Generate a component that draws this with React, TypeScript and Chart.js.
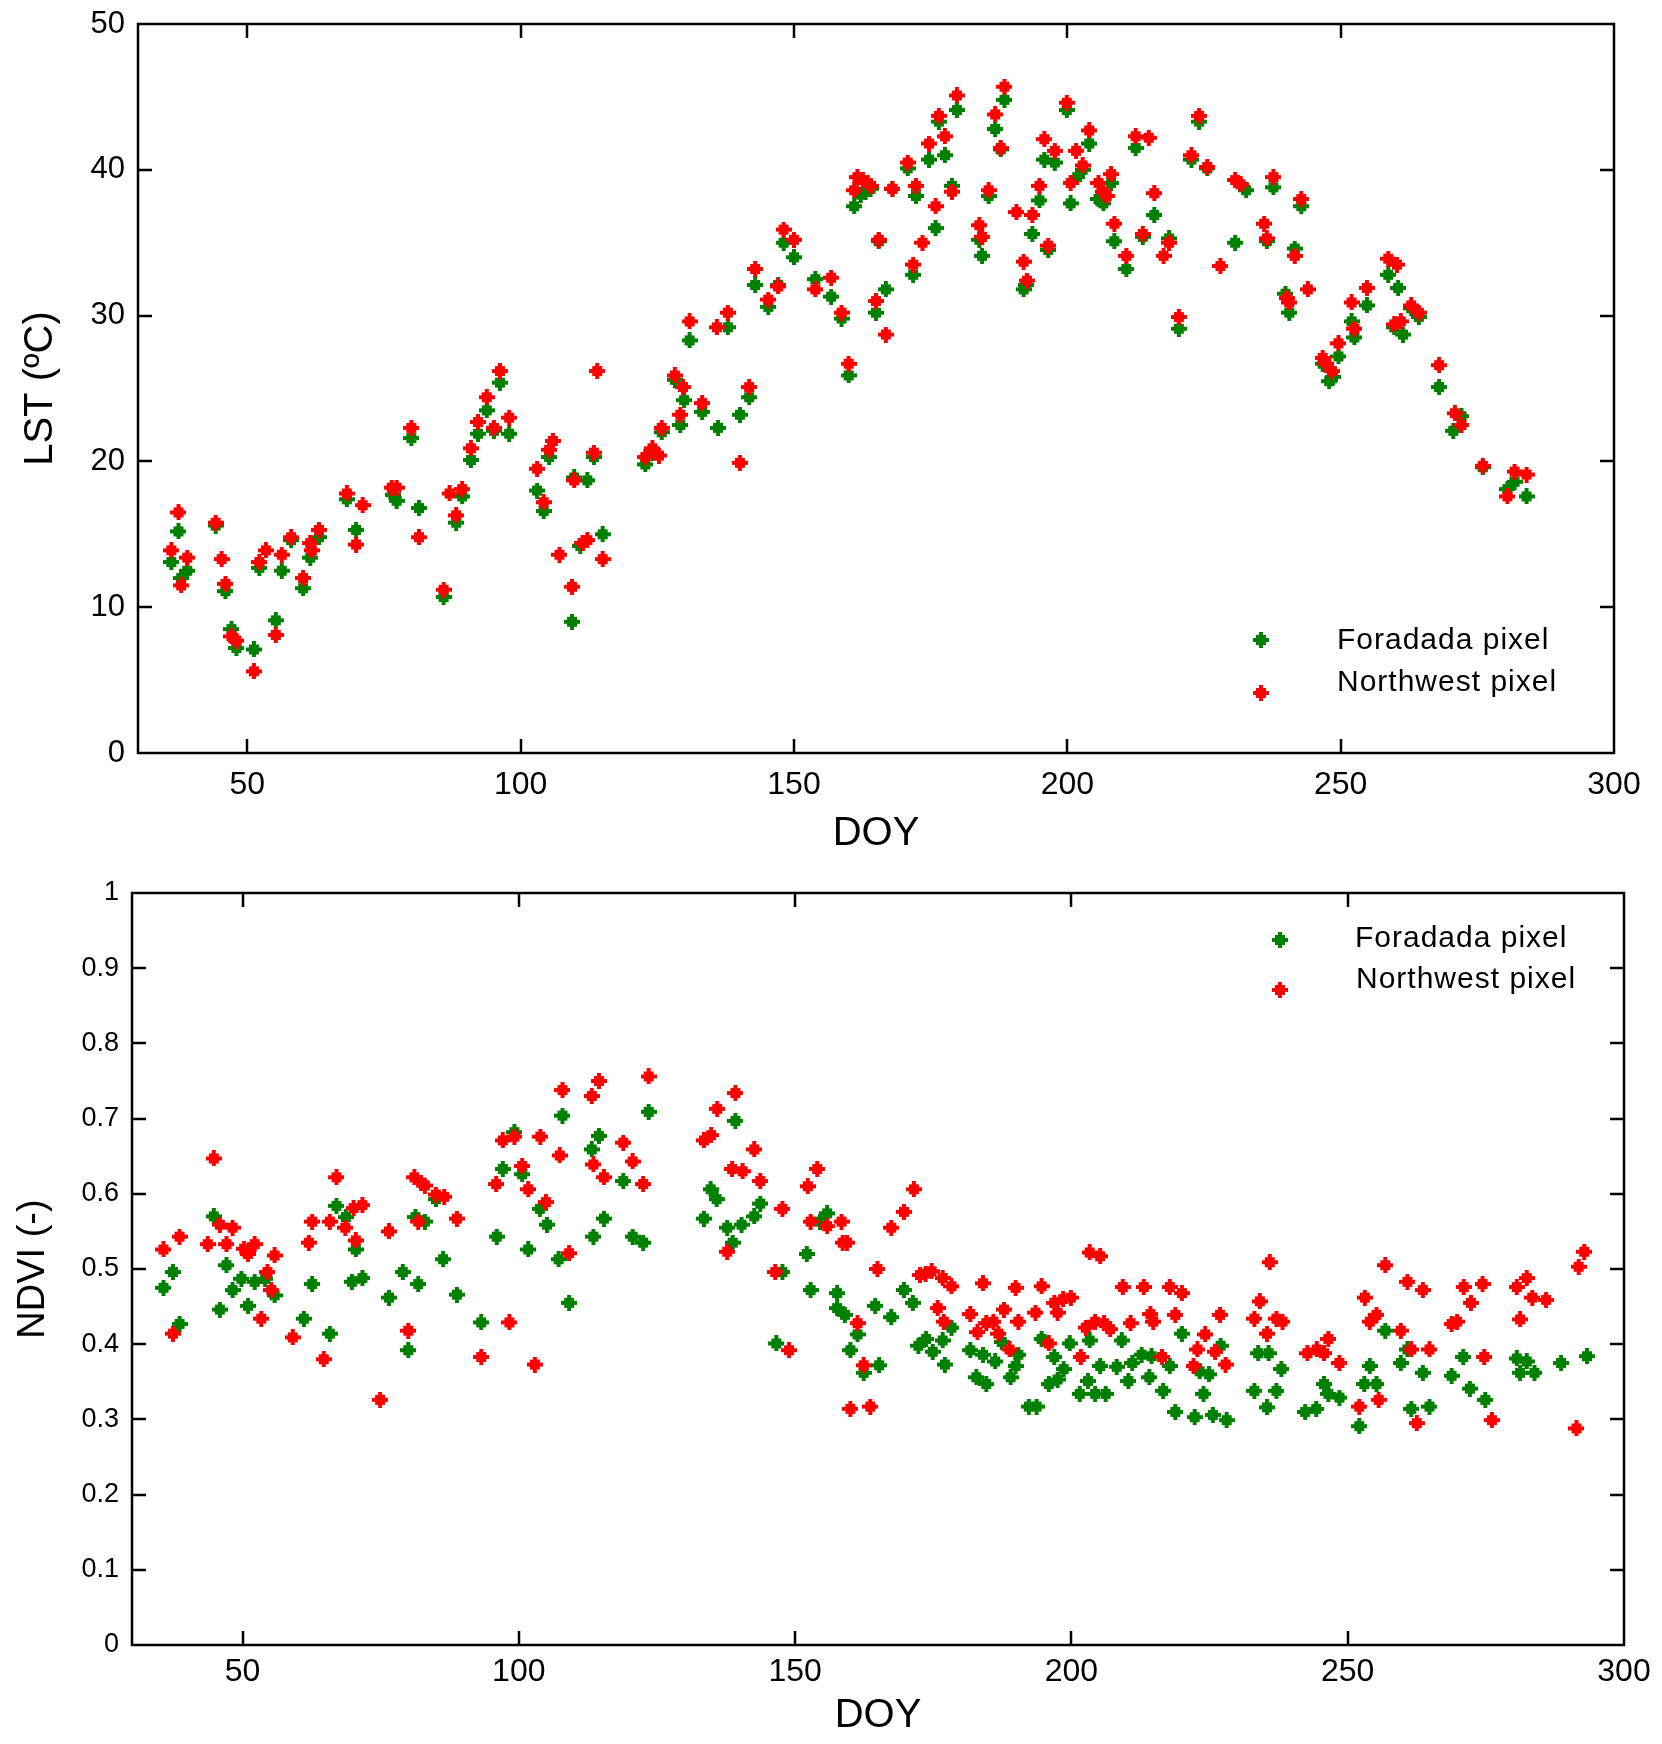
import React, { useEffect, useRef } from 'react';
import { Chart, registerables } from 'chart.js';

Chart.register(...registerables);

type Pt = [number, number];

// axis ticks
const doyTicks = [50, 100, 150, 200, 250, 300];
const lstTicks = [0, 10, 20, 30, 40, 50];
const ndviTicks = [0, 0.1, 0.2, 0.3, 0.4, 0.5, 0.6, 0.7, 0.8, 0.9, 1];
const seriesLabels = ['Foradada pixel', 'Northwest pixel'];

// LST (ºC) by DOY
const lstForadada: Pt[] = [
  [36.1, 13.1], [37.4, 15.2], [37.9, 12.0], [39, 12.5], [44.2, 15.6], [46, 11.1], [47.1, 8.5], [48, 7.2],
  [51.2, 7.1], [52.2, 12.7], [55.2, 9.1], [56.3, 12.5], [58, 14.6], [60.2, 11.3], [61.5, 13.4], [63.1, 14.8],
  [68.2, 17.4], [69.9, 15.3], [76.7, 17.7], [77.3, 17.3], [80, 21.6], [81.4, 16.8], [85.9, 10.7], [88.2, 15.8],
  [89.3, 17.6], [90.9, 20.1], [92.2, 21.9], [93.8, 23.5], [95.1, 22.1], [96.2, 25.4], [97.9, 21.9], [103, 18.0],
  [104.2, 16.6], [105.2, 20.3], [109.4, 9.0], [109.8, 18.9], [110.9, 14.2], [112.2, 18.7], [113.4, 20.3], [115, 15.0],
  [122.8, 19.8], [124.1, 20.6], [125.8, 22.0], [128.2, 25.6], [129.9, 24.2], [129.2, 22.5], [130.9, 28.3], [133.2, 23.4],
  [136.1, 22.3], [137.9, 29.2], [140.1, 23.2], [141.8, 24.4], [142.9, 32.1], [145.3, 30.6], [147.1, 32.1], [148.1, 35.0],
  [150, 34.0], [153.9, 32.5], [156.8, 31.3], [158.7, 29.8], [160, 25.9], [161, 37.5], [162.2, 38.3], [163.1, 38.5],
  [164, 38.7], [165.5, 35.1], [166.8, 31.8], [165, 30.2], [168, 38.7], [170.8, 40.1], [171.8, 32.8], [172.3, 38.2],
  [174.7, 40.7], [175.9, 36.0], [176.5, 43.3], [177.6, 41.0], [178.9, 38.9], [179.8, 44.1], [183.9, 35.2], [184.4, 34.1],
  [185.6, 38.2], [186.8, 42.8], [187.8, 41.4], [188.5, 44.8], [192, 31.8], [192.4, 32.1], [193.6, 35.6], [194.9, 37.9],
  [195.8, 40.7], [196.5, 34.5], [197.7, 40.5], [199.9, 44.1], [200.6, 37.7], [201.8, 39.5], [202.8, 40.0], [204, 41.8],
  [205.7, 38.0], [206.6, 37.7], [208, 39.1], [208.6, 35.1], [210.8, 33.2], [212.5, 41.5], [213.8, 35.4], [215.9, 36.9],
  [218.6, 35.3], [220.4, 29.1], [222.7, 40.7], [224.1, 43.3], [225.6, 40.1], [230.7, 35.0], [232.7, 38.6], [236.5, 35.1],
  [237.7, 38.8], [239.9, 31.5], [240.6, 30.2], [241.6, 34.6], [242.8, 37.5], [246.7, 26.7], [247.9, 25.5], [248.6, 25.8],
  [249.6, 27.2], [252, 29.6], [252.5, 28.5], [254.8, 30.7], [258.7, 32.8], [260.5, 31.9], [259.8, 29.2], [261.4, 28.7],
  [262.9, 30.5], [264.3, 29.9], [268, 25.1], [270.6, 22.1], [272.1, 23.1], [276, 19.6], [280.5, 18.1], [281.8, 18.6],
  [284, 17.6],
];

const lstNorthwest: Pt[] = [
  [36.1, 13.9], [37.4, 16.5], [37.9, 11.5], [39, 13.4], [44.2, 15.8], [45.3, 13.3], [46, 11.6], [47.1, 8.0],
  [48, 7.7], [51.2, 5.6], [52.2, 13.1], [53.4, 13.9], [55.2, 8.1], [56.3, 13.6], [58, 14.8], [60.2, 12.0],
  [61.5, 14.4], [61.8, 13.9], [63.1, 15.3], [68.2, 17.8], [69.9, 14.3], [71.1, 17.0], [76.4, 18.2], [77.3, 18.2],
  [80, 22.3], [81.4, 14.8], [85.9, 11.2], [87, 17.8], [88.2, 16.3], [89.3, 18.1], [90.9, 20.9], [92.2, 22.7],
  [93.8, 24.4], [95.1, 22.3], [96.2, 26.2], [97.9, 23.0], [103, 19.5], [104.2, 17.2], [105.2, 20.8], [105.9, 21.4],
  [107.1, 13.6], [109.4, 11.4], [109.8, 18.7], [111.3, 14.4], [112.2, 14.6], [113.4, 20.6], [114, 26.2], [115, 13.3],
  [122.8, 20.3], [124.1, 20.9], [125.3, 20.4], [125.8, 22.3], [128.2, 25.9], [129.7, 25.1], [129.2, 23.2], [130.9, 29.6],
  [133.2, 24.0], [135.9, 29.2], [137.9, 30.2], [140.1, 19.9], [141.8, 25.1], [142.9, 33.2], [145.3, 31.1], [147.1, 32.0],
  [148.1, 35.9], [150, 35.2], [153.9, 31.8], [156.8, 32.6], [158.7, 30.2], [160, 26.7], [161, 38.6], [161.6, 39.5],
  [162.6, 39.3], [163.5, 39.1], [164, 38.9], [165.5, 35.2], [166.8, 28.7], [165, 31.0], [168, 38.7], [170.8, 40.5],
  [171.8, 33.5], [172.3, 38.9], [173.5, 35.0], [174.7, 41.8], [175.9, 37.5], [176.5, 43.7], [177.6, 42.3], [178.9, 38.5],
  [179.8, 45.1], [183.9, 36.2], [184.4, 35.4], [185.6, 38.6], [186.8, 43.8], [187.8, 41.5], [188.5, 45.7], [190.7, 37.1],
  [192, 33.7], [192.6, 32.4], [193.6, 36.9], [194.9, 38.9], [195.8, 42.1], [196.5, 34.8], [197.7, 41.3], [199.9, 44.6],
  [200.6, 39.1], [201.6, 41.3], [202.8, 40.3], [204, 42.7], [205.7, 39.1], [206.6, 38.5], [207.2, 38.2], [208, 39.7],
  [208.6, 36.3], [210.8, 34.1], [212.5, 42.3], [214.9, 42.2], [213.8, 35.6], [215.9, 38.4], [217.6, 34.1], [218.6, 35.0],
  [220.4, 29.9], [222.7, 41.0], [224.1, 43.7], [225.6, 40.2], [228, 33.4], [230.7, 39.3], [231.7, 39.0], [236, 36.3],
  [236.5, 35.3], [237.7, 39.5], [240.1, 31.2], [240.6, 30.9], [241.6, 34.1], [242.8, 38.0], [244, 31.8], [246.7, 27.1],
  [247.4, 26.7], [248.4, 26.2], [249.6, 28.1], [252, 30.9], [252.5, 29.1], [254.8, 31.9], [258.7, 33.9], [260.3, 33.5],
  [259.8, 29.4], [261, 29.6], [262.9, 30.7], [264.3, 30.2], [268, 26.6], [270.9, 23.3], [272.1, 22.5], [276, 19.7],
  [280.5, 17.6], [281.8, 19.3], [284, 19.1],
];

// NDVI (-) by DOY
const ndviForadada: Pt[] = [
  [35.7, 0.475], [37.4, 0.496], [38.6, 0.427], [44.8, 0.570], [45.9, 0.446], [47.1, 0.505], [48.2, 0.472], [49.8, 0.487],
  [51, 0.451], [52.2, 0.483], [54.1, 0.487], [55.8, 0.465], [61.1, 0.434], [62.6, 0.480], [65.8, 0.414], [67, 0.584],
  [68.7, 0.569], [70.5, 0.526], [69.8, 0.483], [71.7, 0.488], [76.5, 0.462], [79, 0.496], [80, 0.392], [81.3, 0.569],
  [83, 0.563], [81.8, 0.480], [85, 0.593], [86.3, 0.513], [88.8, 0.466], [93.2, 0.429], [96, 0.543], [97.1, 0.633],
  [99.2, 0.682], [100.6, 0.626], [101.7, 0.526], [103.8, 0.580], [105.1, 0.559], [107.2, 0.513], [107.9, 0.704], [109.1, 0.455],
  [113.2, 0.659], [114.5, 0.677], [115.4, 0.567], [113.5, 0.543], [118.9, 0.617], [120.6, 0.543], [122.5, 0.535], [123.5, 0.709],
  [134.7, 0.606], [135.8, 0.593], [133.5, 0.567], [139.2, 0.697], [137.7, 0.555], [138.7, 0.535], [140.3, 0.559], [142.6, 0.570],
  [143.7, 0.587], [147.7, 0.496], [146.6, 0.401], [152.1, 0.520], [154.5, 0.563], [155.8, 0.574], [152.8, 0.472], [157.6, 0.468],
  [157.6, 0.448], [159, 0.439], [161.3, 0.413], [160, 0.392], [162.4, 0.362], [165.2, 0.372], [164.5, 0.451], [167.4, 0.436],
  [169.7, 0.472], [171.3, 0.455], [172.3, 0.398], [173.7, 0.407], [174.9, 0.390], [176.7, 0.405], [178.3, 0.422], [177.1, 0.373],
  [181.7, 0.392], [182.8, 0.356], [184.6, 0.347], [184, 0.386], [186.2, 0.377], [187.4, 0.403], [189, 0.356], [189.9, 0.371],
  [190.4, 0.386], [192.3, 0.317], [193.7, 0.317], [194.6, 0.407], [195.9, 0.347], [197.5, 0.353], [198.6, 0.367], [196.9, 0.383],
  [199.7, 0.401], [201.5, 0.334], [204.3, 0.334], [206.2, 0.334], [203, 0.351], [203.3, 0.405], [205.2, 0.371], [208.2, 0.370],
  [209.1, 0.405], [210.3, 0.351], [211, 0.375], [212.7, 0.386], [214.1, 0.356], [214.5, 0.384], [216.6, 0.338], [217.8, 0.371],
  [218.8, 0.310], [220, 0.414], [222.3, 0.303], [223.2, 0.364], [223.9, 0.334], [224.9, 0.360], [225.6, 0.306], [227, 0.398],
  [228.1, 0.299], [233.1, 0.338], [233.8, 0.388], [235.4, 0.316], [235.7, 0.388], [237.1, 0.338], [238, 0.367], [242.3, 0.310],
  [244.3, 0.314], [245.7, 0.347], [246.5, 0.334], [248.5, 0.329], [252.1, 0.291], [253, 0.347], [254, 0.371], [255.2, 0.347],
  [256.8, 0.418], [259.6, 0.375], [260.8, 0.393], [261.5, 0.314], [263.6, 0.362], [264.8, 0.317], [268.8, 0.358], [270.9, 0.383],
  [272.1, 0.341], [274.9, 0.326], [280.6, 0.381], [281.2, 0.362], [282.4, 0.377], [283.8, 0.362], [288.6, 0.375], [293.3, 0.384],
];

const ndviNorthwest: Pt[] = [
  [35.7, 0.526], [37.4, 0.414], [38.6, 0.543], [43.7, 0.533], [44.8, 0.647], [45.9, 0.559], [47.1, 0.533], [48.2, 0.555],
  [50.3, 0.527], [51, 0.520], [52.2, 0.533], [53.4, 0.434], [54.5, 0.496], [55.2, 0.472], [55.8, 0.518], [59.1, 0.409],
  [62, 0.535], [62.6, 0.563], [64.7, 0.380], [65.8, 0.563], [67, 0.622], [68.6, 0.555], [70.1, 0.581], [71.7, 0.585],
  [70.5, 0.538], [74.9, 0.326], [76.5, 0.550], [80, 0.418], [81.1, 0.622], [82.3, 0.615], [83, 0.611], [81.8, 0.563],
  [85, 0.599], [86.5, 0.596], [88.8, 0.567], [93.2, 0.383], [95.9, 0.613], [97.1, 0.671], [99.2, 0.676], [100.6, 0.637],
  [98.3, 0.429], [101.7, 0.606], [102.9, 0.373], [103.9, 0.676], [104.9, 0.589], [107.4, 0.651], [107.9, 0.738], [109.1, 0.521],
  [113.2, 0.730], [114.5, 0.750], [113.5, 0.639], [115.4, 0.622], [118.9, 0.668], [120.6, 0.643], [122.5, 0.613], [123.5, 0.756],
  [133.5, 0.671], [134.8, 0.678], [135.9, 0.713], [139.2, 0.734], [138.6, 0.633], [140.5, 0.630], [137.7, 0.523], [142.6, 0.659],
  [143.7, 0.617], [147.7, 0.580], [146.4, 0.496], [148.9, 0.392], [152.3, 0.610], [154, 0.633], [152.8, 0.563], [155.8, 0.557],
  [158.4, 0.563], [158.6, 0.535], [159.4, 0.535], [161.3, 0.428], [160, 0.314], [163.6, 0.317], [162.4, 0.372], [164.9, 0.500],
  [167.4, 0.555], [169.7, 0.576], [171.5, 0.606], [172.6, 0.492], [173.6, 0.494], [174.7, 0.497], [176.7, 0.488], [178.3, 0.477],
  [175.8, 0.448], [176.9, 0.430], [181.7, 0.440], [183, 0.416], [184, 0.481], [184.6, 0.428], [185.9, 0.430], [186.8, 0.414],
  [187.8, 0.446], [188.8, 0.393], [189.9, 0.475], [190.4, 0.430], [193.5, 0.442], [194.6, 0.477], [195.9, 0.401], [196.9, 0.455],
  [197.5, 0.442], [198.5, 0.460], [199.9, 0.462], [201.7, 0.383], [203.3, 0.522], [205.2, 0.517], [202.6, 0.422], [204.3, 0.430],
  [205.9, 0.428], [207, 0.420], [209.3, 0.476], [213.1, 0.476], [217.8, 0.476], [220, 0.468], [210.7, 0.428], [214.3, 0.440],
  [214.8, 0.430], [218.8, 0.439], [216.4, 0.383], [222.1, 0.371], [222.8, 0.393], [224.2, 0.413], [226, 0.390], [226.9, 0.439],
  [227.9, 0.373], [233.1, 0.434], [234.1, 0.457], [235.4, 0.414], [235.9, 0.509], [237.1, 0.434], [238.2, 0.430], [242.7, 0.388],
  [244.4, 0.393], [245.7, 0.388], [246.5, 0.407], [248.5, 0.375], [252.1, 0.317], [253.1, 0.462], [254, 0.430], [255.2, 0.439],
  [255.6, 0.326], [256.8, 0.505], [259.6, 0.418], [260.8, 0.483], [261.5, 0.393], [263.6, 0.472], [262.5, 0.295], [264.8, 0.393],
  [268.8, 0.427], [269.8, 0.430], [271, 0.476], [272.3, 0.455], [274.4, 0.480], [274.7, 0.383], [276.1, 0.299], [280.6, 0.476],
  [282.4, 0.488], [281.2, 0.433], [283.4, 0.462], [285.9, 0.459], [291.4, 0.288], [291.8, 0.503], [292.8, 0.523],
];

const GREEN = '#008000';
const RED = '#ff0000';
const FONT = "'Liberation Sans', Arial, Helvetica, sans-serif";

// thick "+" marker with a square centre, like the original plot symbols
function makeMarker(color: string): HTMLCanvasElement {
  const c = document.createElement('canvas');
  c.width = 16;
  c.height = 16;
  const g = c.getContext('2d')!;
  g.fillStyle = color;
  g.fillRect(6, 0, 4, 16);
  g.fillRect(0, 6, 16, 4);
  g.fillRect(3, 3, 10, 10);
  return c;
}

// box around the plot with inward tick marks on all four sides
const framePlugin = {
  id: 'frame',
  afterDraw(chart: any, _args: any, opts: any) {
    const { ctx, chartArea: a, scales } = chart;
    ctx.save();
    ctx.strokeStyle = '#000';
    ctx.lineWidth = opts.lineWidth;
    ctx.strokeRect(a.left, a.top, a.right - a.left, a.bottom - a.top);
    ctx.beginPath();
    scales.x.ticks.forEach((t: any) => {
      const px = Math.round(scales.x.getPixelForValue(t.value));
      if (px <= a.left + 2 || px >= a.right - 2) return;
      ctx.moveTo(px, a.bottom);
      ctx.lineTo(px, a.bottom - opts.len);
      ctx.moveTo(px, a.top);
      ctx.lineTo(px, a.top + opts.len);
    });
    scales.y.ticks.forEach((t: any) => {
      const py = Math.round(scales.y.getPixelForValue(t.value));
      if (py <= a.top + 2 || py >= a.bottom - 2) return;
      ctx.moveTo(a.left, py);
      ctx.lineTo(a.left + opts.len, py);
      ctx.moveTo(a.right, py);
      ctx.lineTo(a.right - opts.len, py);
    });
    ctx.stroke();
    ctx.restore();
  },
};

// legend drawn inside the plot area
const insideLegend = {
  id: 'insideLegend',
  afterDraw(chart: any, _args: any, opts: any) {
    const { ctx } = chart;
    ctx.save();
    ctx.font = `${opts.size}px ${FONT}`;
    ctx.fillStyle = '#000';
    ctx.textAlign = 'left';
    ctx.textBaseline = 'middle';
    ctx.letterSpacing = `${opts.spacing}px`;
    opts.items.forEach((it: any, i: number) => {
      const ds = chart.data.datasets[i];
      const img = ds.pointStyle as HTMLCanvasElement;
      ctx.drawImage(img, it.mx - img.width / 2, it.my - img.height / 2);
      ctx.fillText(ds.label, it.tx, it.ty);
    });
    ctx.restore();
  },
};

interface PanelSpec {
  height: number;
  area: { left: number; right: number; top: number; bottom: number };
  foradada: Pt[];
  northwest: Pt[];
  yTicks: number[];
  yTitle: string;
  yTitleSize: number;
  yTitlePad: number;
  xTitlePad: number;
  yTickSize: number;
  xTickPad: number;
  legendItems: { mx: number; my: number; tx: number; ty: number }[];
}

const WIDTH = 1662;

const Panel: React.FC<{ spec: PanelSpec }> = ({ spec }) => {
  const chartRef = useRef<HTMLCanvasElement>(null);

  useEffect(() => {
    if (!chartRef.current) return;
    const { area } = spec;
    const yMin = spec.yTicks[0];
    const yMax = spec.yTicks[spec.yTicks.length - 1];

    const chart = new Chart(chartRef.current, {
      type: 'scatter',
      data: {
        datasets: [
          {
            label: seriesLabels[0],
            data: spec.foradada.map(([x, y]) => ({ x, y })),
            pointStyle: makeMarker(GREEN),
            pointRadius: 8,
            order: 1,
          },
          {
            label: seriesLabels[1],
            data: spec.northwest.map(([x, y]) => ({ x, y })),
            pointStyle: makeMarker(RED),
            pointRadius: 8,
            order: 0,
          },
        ],
      },
      plugins: [framePlugin, insideLegend],
      options: {
        animation: false,
        responsive: false,
        devicePixelRatio: 1,
        events: [],
        layout: {
          padding: { left: 0, top: area.top, right: WIDTH - area.right, bottom: 0 },
        },
        scales: {
          x: {
            type: 'linear',
            position: 'bottom',
            min: 30,
            max: 300,
            grid: { display: false, drawTicks: false },
            border: { display: false },
            afterBuildTicks: (s: any) => {
              s.ticks = doyTicks.map((v) => ({ value: v }));
            },
            afterFit: (s: any) => {
              s.height = spec.height - area.bottom;
            },
            ticks: {
              autoSkip: false,
              maxRotation: 0,
              padding: spec.xTickPad,
              color: '#000',
              font: { family: FONT, size: 32 },
              callback: (v: any) => String(v),
            },
            title: {
              display: true,
              text: 'DOY',
              color: '#000',
              font: { family: FONT, size: 40 },
              padding: { top: 0, bottom: spec.xTitlePad },
            },
          },
          y: {
            type: 'linear',
            min: yMin,
            max: yMax,
            grid: { display: false, drawTicks: false },
            border: { display: false },
            afterBuildTicks: (s: any) => {
              s.ticks = spec.yTicks.map((v) => ({ value: v }));
            },
            afterFit: (s: any) => {
              s.width = area.left;
              // keep the plot box where the layout padding puts it
              s.paddingTop = 0;
              s.paddingBottom = 0;
            },
            ticks: {
              autoSkip: false,
              padding: 13,
              color: '#000',
              font: { family: FONT, size: spec.yTickSize },
              callback: (v: any) => String(Number(v)),
            },
            title: {
              display: true,
              text: spec.yTitle,
              color: '#000',
              font: { family: FONT, size: spec.yTitleSize },
              padding: { top: spec.yTitlePad, bottom: 0 },
            },
          },
        },
        plugins: {
          legend: { display: false },
          tooltip: { enabled: false },
          frame: { lineWidth: 2.5, len: 14 },
          insideLegend: { size: 30, spacing: 1, items: spec.legendItems },
        } as any,
      },
    });

    return () => {
      chart.destroy();
    };
  }, [spec]);

  return <canvas ref={chartRef} width={WIDTH} height={spec.height} style={{ display: 'block' }} />;
};

const lstSpec: PanelSpec = {
  height: 870,
  area: { left: 138, right: 1614, top: 24, bottom: 753 },
  foradada: lstForadada,
  northwest: lstNorthwest,
  yTicks: lstTicks,
  yTitle: 'LST (ºC)',
  yTitleSize: 40,
  yTitlePad: 17,
  xTitlePad: 12,
  yTickSize: 31,
  xTickPad: 13,
  legendItems: [
    { mx: 1261, my: 640, tx: 1337, ty: 641 },
    { mx: 1261, my: 693, tx: 1337, ty: 683 },
  ],
};

const ndviSpec: PanelSpec = {
  height: 874,
  area: { left: 132, right: 1624, top: 23, bottom: 775 },
  foradada: ndviForadada,
  northwest: ndviNorthwest,
  yTicks: ndviTicks,
  yTitle: 'NDVI (-)',
  yTitleSize: 38,
  yTitlePad: 11,
  xTitlePad: 4,
  yTickSize: 27,
  xTickPad: 8,
  legendItems: [
    { mx: 1280, my: 70, tx: 1355, ty: 69 },
    { mx: 1280, my: 120, tx: 1356, ty: 110 },
  ],
};

export default function App() {
  return (
    <div
      style={{
        position: 'absolute',
        left: 0,
        top: 0,
        width: WIDTH,
        height: 1744,
        background: '#fff',
        overflow: 'hidden',
      }}
    >
      <Panel spec={lstSpec} />
      <Panel spec={ndviSpec} />
    </div>
  );
}
